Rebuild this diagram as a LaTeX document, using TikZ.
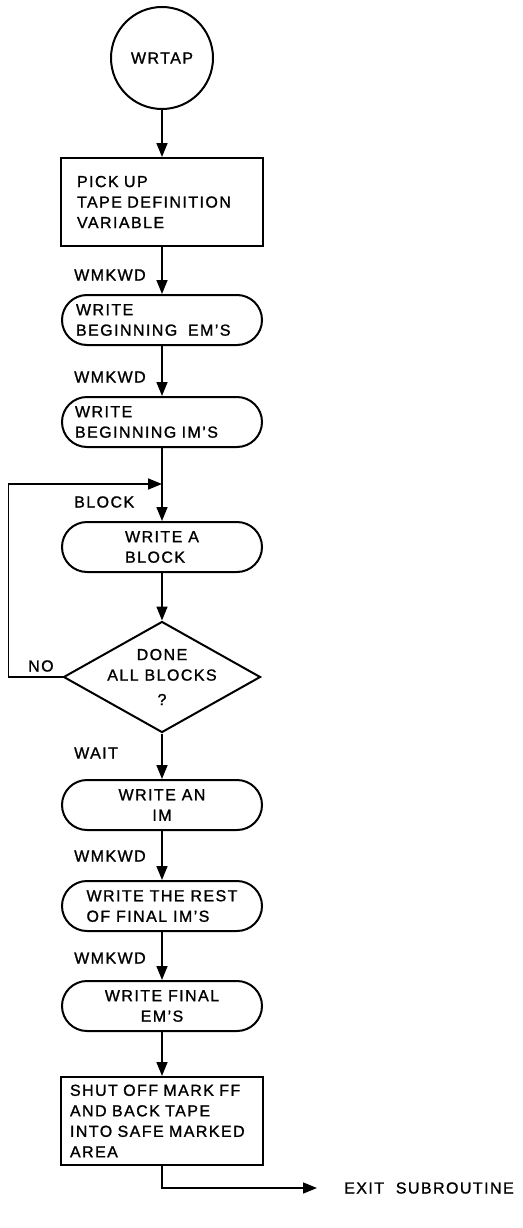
\documentclass[tikz,border=0pt]{standalone}
\usepackage{fontspec}
\setmainfont{Liberation Sans}[LetterSpace=9,FakeBold=1.2]
\usetikzlibrary{arrows.meta,shapes.geometric}

\begin{document}
\begin{tikzpicture}[x=1pt,y=-1pt,>={Triangle[length=14pt,width=11pt]},
  font=\fontsize{16}{20.5}\selectfont,
  entry/.style={draw,circle,line width=2pt,minimum size=102pt,inner sep=0pt},
  proc/.style={draw,rectangle,line width=2pt,minimum width=202pt,minimum height=88pt,align=left},
  term/.style={draw,rectangle,rounded corners=25pt,line width=2pt,minimum width=200pt,minimum height=50pt,align=left},
  deci/.style={draw,diamond,aspect=1.8,line width=2pt,minimum width=197pt,minimum height=111pt,
    inner xsep=-8pt,inner ysep=-4pt,align=center},
  lbl/.style={anchor=west,inner sep=0pt},
  conn/.style={->,line width=1.6pt}]
  \useasboundingbox (0,0) rectangle (522,1228);
  % main chain
  \node[entry] (wrtap) at (162,58) {WRTAP};
  \node[proc,text width=170pt] (pickup) at (162,202) {PICK UP\\TAPE DEFINITION\\VARIABLE};
  \node[term,text width=172pt] (begem) at (162,320) {WRITE\\BEGINNING\ \ EM'S};
  \node[term,text width=174pt] (begim) at (162,422) {WRITE\\BEGINNING IM'S};
  \node[term] (wblock) at (162,547) {WRITE A\\BLOCK};
  \node[deci] (done) at (162,677) {DONE\\ALL BLOCKS\\[4pt]?};
  \node[term,align=center] (wim) at (162,805) {WRITE AN\\IM};
  \node[term] (restim) at (162,906) {WRITE THE REST\\OF FINAL IM'S};
  \node[term,align=center] (finem) at (162,1006) {WRITE FINAL\\EM'S};
  \node[proc,text width=184pt] (shutoff) at (162,1121) {SHUT OFF MARK FF\\AND BACK TAPE\\INTO SAFE MARKED\\AREA};
  \node[lbl] (exit) at (344,1188) {EXIT\ \ SUBROUTINE};
  % entry point labels
  \node[lbl] (l1) at (74,275) {WMKWD};
  \node[lbl] (l2) at (74,377) {WMKWD};
  \node[lbl] (l3) at (74,502) {BLOCK};
  \node[lbl] (l4) at (74,753) {WAIT};
  \node[lbl] (l5) at (74,856) {WMKWD};
  \node[lbl] (l6) at (74,958) {WMKWD};
  \node[lbl] (no) at (28,666) {NO};
  \coordinate (join) at (162,484);
  % connectors
  \draw[conn] (wrtap) -- (pickup);
  \draw[conn] (pickup) -- (begem);
  \draw[conn] (begem) -- (begim);
  \draw[conn] (begim) -- (wblock);
  \draw[conn] (wblock) -- (done);
  \draw[conn] (done) -- (wim);
  \draw[conn] (wim) -- (restim);
  \draw[conn] (restim) -- (finem);
  \draw[conn] (finem) -- (shutoff);
  \draw[conn] (done.west) -- ++(-54,0) |- (join);
  \draw[conn,shorten >=27pt] (shutoff.south) |- (exit.west);
\end{tikzpicture}
\end{document}
